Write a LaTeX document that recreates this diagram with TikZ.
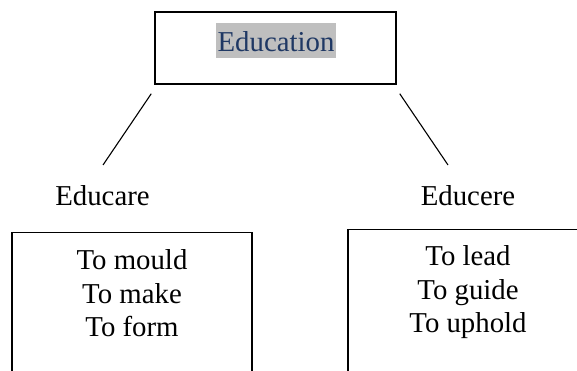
\documentclass[tikz,border=0pt]{standalone}
\usepackage{fontspec}
\setmainfont{Liberation Serif}
\definecolor{titleblue}{HTML}{1F3864}
\definecolor{markgray}{HTML}{BFBFBF}
\tikzset{
  wordbox/.style={draw,line width=1.5pt,inner sep=0pt},
  highlit/.style={fill=markgray,text=titleblue,inner xsep=2pt,inner ysep=0pt,text height=29pt,text depth=6pt},
  word/.style={inner sep=0pt,anchor=base},
  listtext/.style={inner sep=0pt,align=center,anchor=base}
}
\begin{document}
\begin{tikzpicture}[x=1pt,y=1pt,font=\fontsize{28.8}{33.5}\selectfont]
\useasboundingbox (0,0) rectangle (577,371);
\clip (0,0) rectangle (577,371);
\node[wordbox,minimum width=241pt,minimum height=72pt] (edu) at (275.5,323) {};
\node[highlit,anchor=base] (edutext) at (276,319) {Education};
\node[word] (educare) at (102.5,165) {Educare};
\node[word] (educere) at (468,165) {Educere};
\coordinate (careTop) at (103,206);
\coordinate (cereTop) at (448,206);
\coordinate (eduL) at ([shift={(-3,-9)}]edu.south west);
\coordinate (eduR) at ([shift={(3,-9)}]edu.south east);
\draw[line width=1.1pt] (eduL) -- (careTop);
\draw[line width=1.1pt] (eduR) -- (cereTop);
\node[wordbox,minimum width=240pt,minimum height=200pt,anchor=north] (mouldbox) at (132,139) {};
\node[wordbox,minimum width=240pt,minimum height=200pt,anchor=north] (leadbox) at (468,142) {};
\node[listtext] (mouldtext) at (132,34) {To mould\\To make\\To form};
\node[listtext] (leadtext) at (468,38) {To lead\\To guide\\To uphold};
\end{tikzpicture}
\end{document}
